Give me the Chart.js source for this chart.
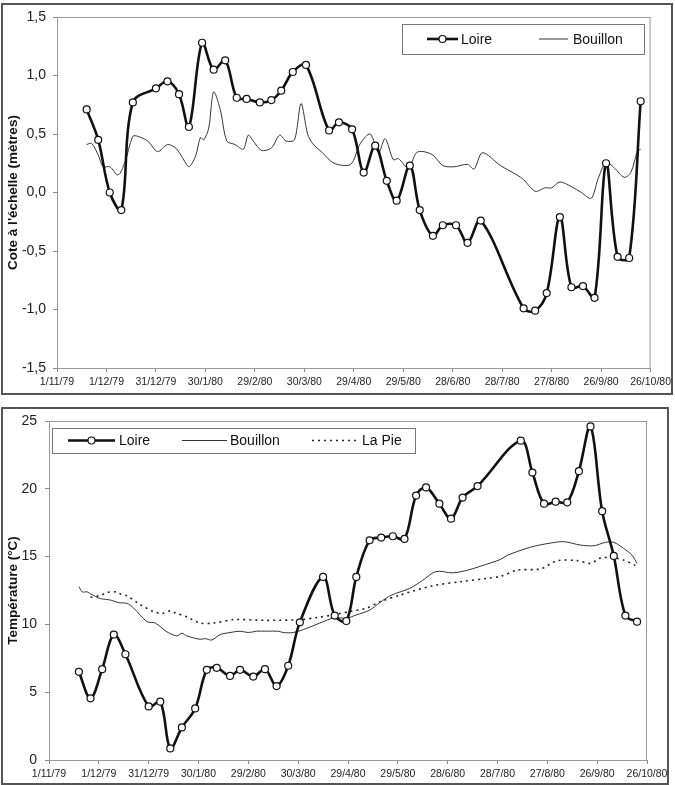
<!DOCTYPE html>
<html>
<head>
<meta charset="utf-8">
<script src="https://cdn.jsdelivr.net/npm/chart.js@4.4.1/dist/chart.umd.min.js"></script>
<style>
  body { margin: 0; background: #fff; width: 675px; height: 785px; position: relative; overflow: hidden; }
  .frame { position: absolute; border: 2px solid #555; box-sizing: border-box; }
  canvas { position: absolute; left: 0; }
</style>
</head>
<body>
<div class="frame" style="left:1px;top:3px;width:672px;height:392px"></div>
<div class="frame" style="left:1px;top:407px;width:668px;height:378px"></div>
<canvas id="level" width="675" height="400" style="top:0"></canvas>
<canvas id="temp" width="675" height="385" style="top:400px"></canvas>

<script>
// x axis = days after 1/11/79, one label every 30 days
const dateTicks = ['1/11/79', '1/12/79', '31/12/79', '30/1/80', '29/2/80', '30/3/80', '29/4/80',
  '29/5/80', '28/6/80', '28/7/80', '27/8/80', '26/9/80', '26/10/80'];

// cote à l'échelle (m)
const loireLevelDays = [18, 25, 32, 39, 46, 60, 67, 74, 80, 88, 95, 102, 109, 115, 123, 130, 136, 143, 151,
  165, 171, 179, 186, 193, 200, 206, 214, 220, 228, 234, 242, 249, 257, 283, 290, 297, 305, 312, 319, 326,
  333, 340, 347, 354];
const loireLevel = [0.71, 0.45, 0.0, -0.15, 0.77, 0.89, 0.95, 0.84, 0.56, 1.28, 1.05, 1.13, 0.81, 0.80, 0.77,
  0.79, 0.87, 1.03, 1.09, 0.53, 0.60, 0.54, 0.17, 0.40, 0.10, -0.07, 0.23, -0.15, -0.37, -0.28, -0.28, -0.43,
  -0.24, -0.99, -1.01, -0.86, -0.21, -0.81, -0.80, -0.90, 0.25, -0.55, -0.56, 0.78];

const bouillonLevelDays = [18, 21, 25, 28, 32, 37, 41, 46, 49, 55, 61, 67, 72, 76, 80, 84, 87, 89, 92, 95, 99,
  103, 108, 113, 116, 119, 124, 130, 135, 139, 144, 148, 152, 155, 161, 168, 178, 184, 190, 195, 199, 204,
  207, 213, 218, 222, 228, 234, 241, 249, 253, 258, 269, 279, 283, 290, 296, 300, 305, 312, 318, 324, 328,
  333, 338, 344, 348, 352, 354];
const bouillonLevel = [0.41, 0.42, 0.32, 0.22, 0.22, 0.15, 0.25, 0.48, 0.48, 0.44, 0.35, 0.41, 0.38, 0.30,
  0.22, 0.31, 0.47, 0.45, 0.55, 0.86, 0.71, 0.44, 0.41, 0.37, 0.49, 0.44, 0.36, 0.38, 0.49, 0.44, 0.45, 0.76,
  0.50, 0.42, 0.34, 0.25, 0.24, 0.42, 0.50, 0.34, 0.46, 0.28, 0.29, 0.21, 0.34, 0.35, 0.32, 0.23, 0.22, 0.24,
  0.20, 0.34, 0.23, 0.15, 0.11, 0.01, 0.04, 0.04, 0.09, 0.05, 0.0, -0.05, 0.11, 0.26, 0.21, 0.13, 0.17, 0.35, 0.37];

// température (°C)
const loireTempDays = [18, 25, 32, 39, 46, 60, 67, 73, 80, 88, 95, 101, 109, 115, 123, 130, 137, 144, 151, 165,
  172, 179, 185, 193, 200, 207, 214, 221, 227, 235, 242, 249, 258, 284, 291, 298, 305, 312, 319, 326, 333,
  340, 347, 354];
const loireTemp = [6.5, 4.55, 6.7, 9.25, 7.8, 3.95, 4.3, 0.85, 2.4, 3.8, 6.65, 6.8, 6.2, 6.65, 6.15, 6.7, 5.45,
  6.95, 10.15, 13.5, 10.65, 10.25, 13.5, 16.2, 16.4, 16.5, 16.3, 19.5, 20.1, 18.9, 17.8, 19.35, 20.2, 23.55,
  21.2, 18.9, 19.05, 19.0, 21.3, 24.6, 18.35, 15.05, 10.65, 10.2];

const bouillonTempDays = [18, 20, 23, 25, 31, 37, 42, 47, 51, 59, 64, 71, 77, 80, 83, 91, 94, 98, 103, 109, 115,
  120, 125, 131, 138, 141, 147, 155, 163, 172, 179, 185, 193, 199, 206, 217, 225, 233, 243, 252, 260, 272,
  276, 290, 302, 310, 320, 328, 335, 340, 346, 351, 354];
const bouillonTemp = [12.8, 12.4, 12.4, 12.25, 11.9, 11.8, 11.6, 11.55, 11.2, 10.2, 10.1, 9.45, 9.15, 9.35,
  9.15, 8.9, 8.95, 8.85, 9.25, 9.4, 9.5, 9.4, 9.5, 9.5, 9.5, 9.4, 9.4, 9.7, 10.1, 10.5, 10.45, 10.7, 11.05,
  11.6, 12.15, 12.65, 13.25, 13.9, 13.8, 14.0, 14.3, 14.8, 15.1, 15.7, 16.0, 16.1, 15.85, 15.8, 16.05, 16.05,
  15.6, 15.1, 14.5];

const laPieTempDays = [25, 31, 35, 40, 43, 47, 55, 63, 68, 73, 76, 83, 91, 99, 111, 131, 151, 161, 171, 181, 191,
  199, 211, 231, 248, 264, 272, 282, 296, 306, 318, 326, 332, 340, 346, 353];
const laPieTemp = [12.0, 12.15, 12.35, 12.4, 12.25, 12.1, 11.45, 10.95, 10.8, 11.0, 10.85, 10.55, 10.1, 10.1,
  10.35, 10.3, 10.35, 10.5, 10.7, 10.95, 11.2, 11.65, 12.15, 12.85, 13.15, 13.4, 13.55, 14.0, 14.1, 14.7, 14.7,
  14.5, 14.9, 14.9, 14.75, 14.35];

const FONT = '"Liberation Sans", Arial, sans-serif';

function pts(days, vals) {
  return days.map((d, i) => ({ x: d, y: vals[i] }));
}

// cadre gris autour de la zone de tracé
const plotBorder = {
  id: 'plotBorder',
  beforeDatasetsDraw(chart) {
    const { ctx, chartArea: a } = chart;
    ctx.save();
    ctx.strokeStyle = '#9a9a9a';
    ctx.lineWidth = 1;
    ctx.strokeRect(a.left + 0.5, a.top + 0.5, a.right - a.left - 1, a.bottom - a.top);
    ctx.restore();
  }
};

// légende encadrée, dessinée à la main
const boxLegend = {
  id: 'boxLegend',
  afterDraw(chart, args, opts) {
    const ctx = chart.ctx;
    const [bx, by, bw, bh] = opts.box;
    const cy = by + bh / 2;
    ctx.save();
    ctx.fillStyle = '#fff';
    ctx.fillRect(bx, by, bw, bh);
    ctx.strokeStyle = '#777';
    ctx.lineWidth = 1;
    ctx.strokeRect(bx + 0.5, by + 0.5, bw, bh);
    opts.items.forEach(it => {
      const ds = chart.data.datasets[it.dataset];
      ctx.beginPath();
      ctx.setLineDash(ds.borderDash || []);
      ctx.strokeStyle = ds.borderColor;
      ctx.lineWidth = ds.borderWidth;
      ctx.moveTo(it.x1, cy);
      ctx.lineTo(it.x2, cy);
      ctx.stroke();
      ctx.setLineDash([]);
      if (ds.pointRadius > 0) {
        ctx.beginPath();
        ctx.arc((it.x1 + it.x2) / 2, cy, ds.pointRadius, 0, Math.PI * 2);
        ctx.fillStyle = ds.pointBackgroundColor;
        ctx.fill();
        ctx.lineWidth = ds.pointBorderWidth;
        ctx.strokeStyle = ds.pointBorderColor;
        ctx.stroke();
      }
      ctx.fillStyle = '#111';
      ctx.font = '14px ' + FONT;
      ctx.textBaseline = 'middle';
      ctx.fillText(ds.label, it.textX, cy + 1);
    });
    ctx.restore();
  }
};

function loireStyle(label, data) {
  return {
    label, data,
    borderColor: '#111', borderWidth: 2.6, tension: 0.35,
    pointRadius: 3.5, pointBackgroundColor: '#fff', pointBorderColor: '#111', pointBorderWidth: 1.2
  };
}

function thinStyle(label, data, dash) {
  return {
    label, data,
    borderColor: dash ? '#222' : '#333', borderWidth: dash ? 1.6 : 1, borderDash: dash || [],
    tension: 0.3, pointRadius: 0
  };
}

function makeOptions(c) {
  return {
    responsive: false,
    animation: false,
    events: [],
    layout: { padding: c.padding },
    plugins: { legend: { display: false }, tooltip: { enabled: false }, boxLegend: c.legend },
    scales: {
      x: {
        type: 'linear', min: 0, max: 360,
        afterFit: s => { s.height = c.xHeight; },
        grid: { drawOnChartArea: false, drawTicks: true, tickLength: 4, color: '#888' },
        border: { display: true, color: '#888', width: 1 },
        ticks: {
          stepSize: 30, autoSkip: false, maxRotation: 0, padding: 4, color: '#222',
          font: { family: FONT, size: 10.5 },
          callback: v => dateTicks[Math.round(v / 30)]
        }
      },
      y: {
        min: c.yMin, max: c.yMax,
        afterFit: s => { s.width = c.yWidth; },
        grid: { drawOnChartArea: false, drawTicks: true, tickLength: 4, color: '#888' },
        border: { display: true, color: '#888', width: 1 },
        ticks: {
          stepSize: c.yStep, padding: c.yPad, color: '#222',
          font: { family: FONT, size: 14 },
          callback: c.yFmt
        },
        title: {
          display: true, text: c.yTitle, color: '#111',
          font: { family: FONT, size: 13.5, weight: 'bold' },
          padding: { top: 5, bottom: 0 }
        }
      }
    }
  };
}

new Chart(document.getElementById('level'), {
  type: 'line',
  data: {
    datasets: [
      loireStyle('Loire', pts(loireLevelDays, loireLevel)),
      thinStyle('Bouillon', pts(bouillonLevelDays, bouillonLevel))
    ]
  },
  options: makeOptions({
    padding: { left: 0, top: 17, right: 24, bottom: 0 },
    xHeight: 32, yWidth: 57, yPad: 7,
    yMin: -1.5, yMax: 1.5, yStep: 0.5,
    yFmt: v => v.toFixed(1).replace('.', ','),
    yTitle: "Cote à l'échelle (mètres)",
    legend: {
      box: [402, 24, 242, 30],
      items: [
        { dataset: 0, x1: 427, x2: 458, textX: 461 },
        { dataset: 1, x1: 539, x2: 568, textX: 573 }
      ]
    }
  }),
  plugins: [plotBorder, boxLegend]
});

new Chart(document.getElementById('temp'), {
  type: 'line',
  data: {
    datasets: [
      loireStyle('Loire', pts(loireTempDays, loireTemp)),
      thinStyle('Bouillon', pts(bouillonTempDays, bouillonTemp)),
      thinStyle('La Pie', pts(laPieTempDays, laPieTemp), [2, 4])
    ]
  },
  options: makeOptions({
    padding: { left: 0, top: 21, right: 28, bottom: 0 },
    xHeight: 25, yWidth: 49, yPad: 8,
    yMin: 0, yMax: 25, yStep: 5,
    yFmt: v => String(v),
    yTitle: 'Température (°C)',
    legend: {
      box: [52, 28, 363, 25],
      items: [
        { dataset: 0, x1: 68, x2: 115, textX: 119 },
        { dataset: 1, x1: 182, x2: 227, textX: 230 },
        { dataset: 2, x1: 312, x2: 358, textX: 362 }
      ]
    }
  }),
  plugins: [plotBorder, boxLegend]
});
</script>
</body>
</html>
